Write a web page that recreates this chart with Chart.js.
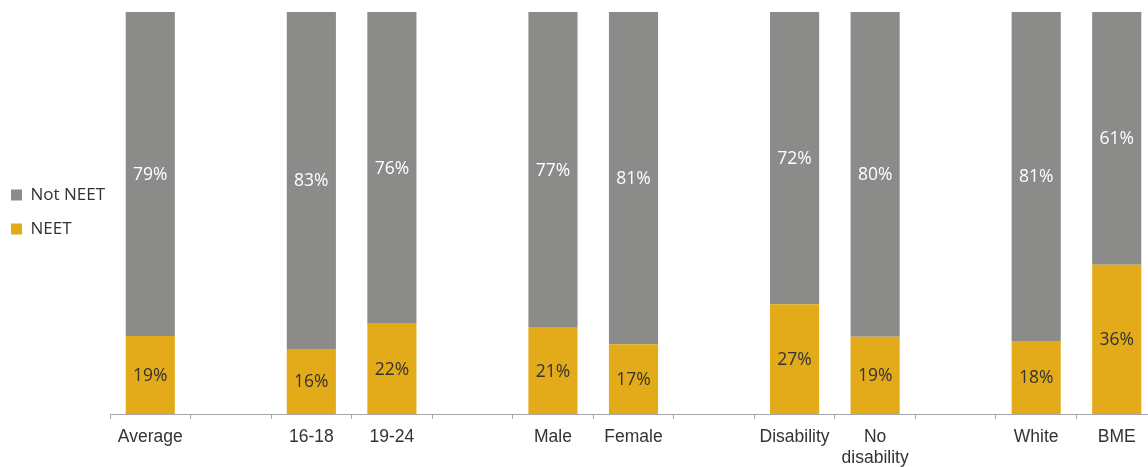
<!DOCTYPE html>
<html>
<head>
<meta charset="utf-8">
<script src="https://cdn.jsdelivr.net/npm/chart.js@4.4.0/dist/chart.umd.min.js"></script>
<style>
    html, body { margin: 0; padding: 0; background: #fff; overflow: hidden; }
    #wrap { width: 1157px; height: 481px; position: relative; }
</style>
</head>
<body>
<div id="wrap"><canvas id="neet-chart"></canvas></div>
<script>
// Categories (blank entries are the gaps between groups)
var categories = ['Average', '', '16-18', '19-24', '', 'Male', 'Female', '', 'Disability', ['No', 'disability'], '', 'White', 'BME'];

// Shares as labelled in the chart (%)
var neetValues    = [19, null, 16, 22, null, 21, 17, null, 27, 19, null, 18, 36];
var notNeetValues = [79, null, 83, 76, null, 77, 81, null, 72, 80, null, 81, 61];

var neetColor = '#E3AB1A';
var notNeetColor = '#8B8C89';

// 100% stacked: each bar is scaled to its own total
function toShare(values, others) {
    return values.map(function(v, i) {
        if (v === null) return null;
        return v / (v + others[i]) * 100;
    });
}

// Draw the percentage label in the middle of each segment
var segmentLabels = {
    id: 'segmentLabels',
    afterDatasetsDraw: function(chart) {
        var ctx = chart.ctx;
        ctx.save();
        ctx.font = '17.5px "Open Sans"';
        ctx.textAlign = 'center';
        ctx.textBaseline = 'middle';
        chart.data.datasets.forEach(function(ds, di) {
            var meta = chart.getDatasetMeta(di);
            ctx.fillStyle = ds.labelColor;
            meta.data.forEach(function(bar, i) {
                var raw = ds.rawValues[i];
                if (raw === null) return;
                ctx.fillText(raw + '%', bar.x, (bar.y + bar.base) / 2 + 1);
            });
        });
        ctx.restore();
    }
};

var ctx = document.getElementById('neet-chart').getContext('2d');
new Chart(ctx, {
    type: 'bar',
    data: {
        labels: categories,
        datasets: [{
            label: 'NEET',
            data: toShare(neetValues, notNeetValues),
            rawValues: neetValues,
            labelColor: '#333333',
            backgroundColor: neetColor,
            categoryPercentage: 1,
            barPercentage: 0.61
        }, {
            label: 'Not NEET',
            data: toShare(notNeetValues, neetValues),
            rawValues: notNeetValues,
            labelColor: '#ffffff',
            backgroundColor: notNeetColor,
            categoryPercentage: 1,
            barPercentage: 0.61
        }]
    },
    options: {
        responsive: true,
        maintainAspectRatio: false,
        animation: false,
        layout: {
            padding: { top: 12, bottom: 4, left: -6, right: 0 }
        },
        scales: {
            x: {
                stacked: true,
                grid: {
                    offset: true,
                    drawOnChartArea: false,
                    drawTicks: true,
                    tickLength: 5,
                    color: '#A6A6A6'
                },
                border: { display: true, color: '#A6A6A6' },
                ticks: {
                    autoSkip: false,
                    maxRotation: 0,
                    padding: 8,
                    color: '#333333',
                    font: { family: '"Liberation Sans", Arial', size: 17.5, lineHeight: 1.2 }
                }
            },
            y: {
                stacked: true,
                min: 0,
                max: 100,
                display: false
            }
        },
        plugins: {
            legend: {
                position: 'left',
                align: 'start',
                reverse: true,
                maxWidth: 116,
                title: {
                    display: true,
                    text: ' ',
                    font: { size: 10, lineHeight: 1.2 },
                    padding: { top: 145.5, bottom: 0 }
                },
                labels: {
                    boxWidth: 11,
                    boxHeight: 11,
                    padding: 17,
                    color: '#333333',
                    font: { family: '"Open Sans"', size: 17 }
                }
            },
            tooltip: { enabled: false }
        }
    },
    plugins: [segmentLabels]
});
</script>
</body>
</html>
